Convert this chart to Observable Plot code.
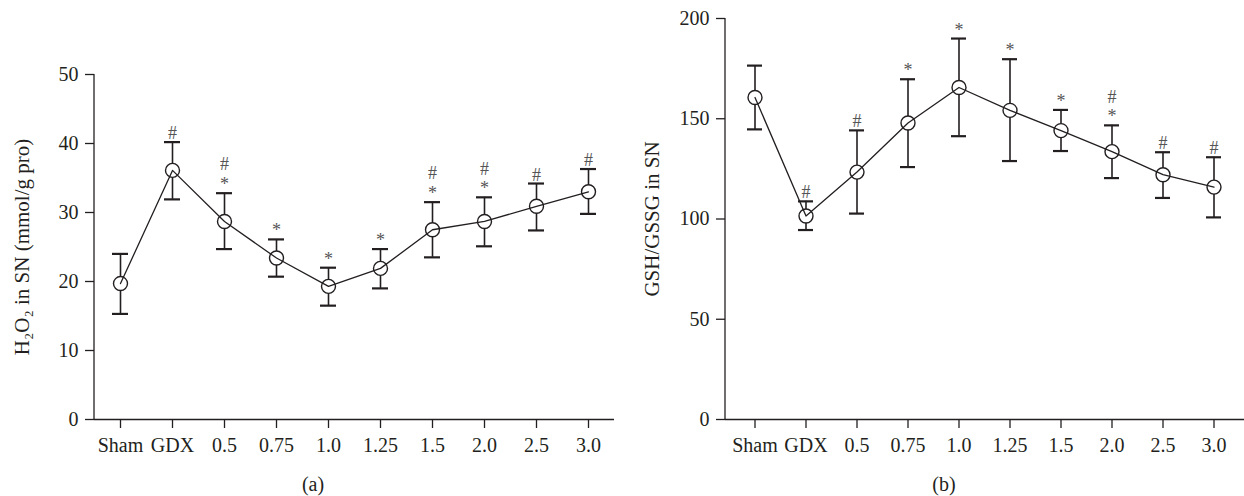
<!DOCTYPE html>
<html>
<head>
<meta charset="utf-8">
<script src="https://cdn.jsdelivr.net/npm/d3@7"></script>
<script src="https://cdn.jsdelivr.net/npm/@observablehq/plot@0.6"></script>
<style>
  body { margin: 0; background: #fff; }
  #wrap { display: flex; width: 1244px; }
  .panel { position: relative; width: 622px; height: 496px; }
  .panel svg { position: absolute; left: 0; top: 0; }
  .cap { position: absolute; top: 473px; font-family: "Liberation Serif", serif; font-size: 20px; color: #231f20; transform: translateX(-50%); }
</style>
</head>
<body>
<div id="wrap">
  <div class="panel" id="pa"><div class="cap" style="left:313px">(a)</div></div>
  <div class="panel" id="pb"><div class="cap" style="left:322px">(b)</div></div>
</div>
<script>
const groups = ["Sham", "GDX", "0.5", "0.75", "1.0", "1.25", "1.5", "2.0", "2.5", "3.0"];
const tickLabels = ["Sham", "GDX", "0.5", "0.75", "1.0", "1.25", "1.5", "2.0", "2.5", "3.0"];

// Panel (a): H2O2
const h2o2Mean = [19.7, 36.1, 28.7, 23.4, 19.3, 21.9, 27.5, 28.7, 30.9, 33.0];
const h2o2Hi   = [24.0, 40.2, 32.8, 26.1, 22.0, 24.7, 31.5, 32.2, 34.2, 36.3];
const h2o2Lo   = [15.3, 31.9, 24.7, 20.7, 16.5, 19.0, 23.5, 25.1, 27.4, 29.8];
const h2o2Sig  = ["", "#", "#\n*", "*", "*", "*", "#\n*", "#\n*", "#", "#"];
const h2o2Ticks = [0, 10, 20, 30, 40, 50];

// Panel (b): GSH/GSSG
const gshMean = [160.6, 101.5, 123.4, 147.9, 165.6, 154.2, 144.1, 133.6, 122.1, 115.9];
const gshHi   = [176.5, 108.8, 144.2, 169.7, 190.0, 179.7, 154.4, 146.7, 133.3, 130.8];
const gshLo   = [144.7, 94.5, 102.7, 125.9, 141.3, 128.9, 133.9, 120.4, 110.5, 100.8];
const gshSig  = ["", "#", "#", "*", "*", "*", "*", "#\n*", "#", "#"];
const gshTicks = [0, 50, 100, 150, 200];

const INK = "#231f20";

function panel({mean, hi, lo, sig, ticks, domain, label, marginTop, marginLeft, marginRight, labelDx}) {
  const data = groups.map((g, i) => ({g, mean: mean[i], hi: hi[i], lo: lo[i], sig: sig[i]}));
  const H = 472, MB = 53;
  const yAxisLine = (index, scales, values, dim) => {
    const l = d3.create("svg:line")
      .attr("x1", dim.marginLeft).attr("x2", dim.marginLeft)
      .attr("y1", dim.marginTop).attr("y2", dim.height - dim.marginBottom)
      .attr("stroke", INK).attr("stroke-width", 1.3);
    return l.node();
  };
  return Plot.plot({
    width: 622,
    height: H,
    marginTop, marginBottom: MB, marginLeft, marginRight,
    style: {fontFamily: "'Liberation Serif', serif", fontSize: "20px", color: INK, background: "transparent"},
    x: {type: "band", domain: groups, paddingInner: 0.7, paddingOuter: 0.35, label: null},
    y: {domain, label: null},
    marks: [
      Plot.axisX({tickSize: 9, tickPadding: 9, fontSize: 20, tickFormat: (d) => tickLabels[groups.indexOf(d)], stroke: INK, strokeWidth: 1.3, label: null}),
      Plot.axisY({ticks, tickSize: 9, tickPadding: 7, fontSize: 20, stroke: INK, strokeWidth: 1.3, label: null}),
      Plot.ruleY([domain[0]], {stroke: INK, strokeWidth: 1.3}),
      yAxisLine,
      Plot.text([label], {frameAnchor: "left", textAnchor: "middle", lineAnchor: "middle", rotate: -90, dx: labelDx, text: d => d, fontSize: 21, fill: INK}),
      Plot.ruleX(data, {x: "g", y1: "lo", y2: "hi", stroke: INK, strokeWidth: 1.6}),
      Plot.tickY(data, {x: "g", y: "hi", stroke: INK, strokeWidth: 2.2}),
      Plot.tickY(data, {x: "g", y: "lo", stroke: INK, strokeWidth: 2.2}),
      Plot.dot(data, {x: "g", y: "mean", r: 7, fill: "white", stroke: INK, strokeWidth: 1.4}),
      Plot.line(data, {x: "g", y: "mean", stroke: INK, strokeWidth: 1.3}),
      Plot.text(data, {x: "g", y: "hi", text: "sig", lineAnchor: "bottom", lineHeight: 1.1, dy: -3, fontSize: 18, fill: "#555"})
    ]
  });
}

const a = panel({mean: h2o2Mean, hi: h2o2Hi, lo: h2o2Lo, sig: h2o2Sig, ticks: h2o2Ticks, domain: [0, 50],
  label: "H₂O₂ in SN (mmol/g pro)", marginTop: 74, marginLeft: 94, marginRight: 8, labelDx: -72});
const b = panel({mean: gshMean, hi: gshHi, lo: gshLo, sig: gshSig, ticks: gshTicks, domain: [0, 200],
  label: "GSH/GSSG in SN", marginTop: 18, marginLeft: 103, marginRight: 0, labelDx: -73});
document.getElementById("pa").prepend(a);
document.getElementById("pb").prepend(b);
</script>
</body>
</html>
